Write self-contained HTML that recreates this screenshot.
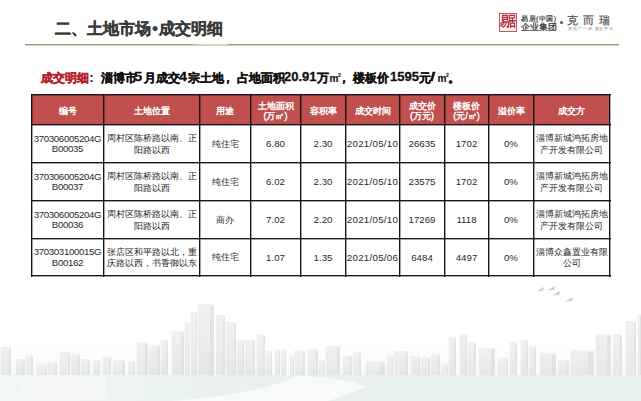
<!DOCTYPE html>
<html><head><meta charset="utf-8">
<style>
*{margin:0;padding:0;box-sizing:border-box}
html,body{width:641px;height:401px;overflow:hidden;background:#fff}
body{position:relative;font-family:"Liberation Sans",sans-serif;color:#222}
.abs{position:absolute;white-space:nowrap}
#title{left:55px;top:16px;font-size:16px;font-weight:bold;color:#3a3a3a;line-height:26px;-webkit-text-stroke:0.35px #3a3a3a}
#title .dot{display:inline-block;width:8px;text-align:center}
#rule{left:25px;top:44px;width:594px;height:1px;background:linear-gradient(90deg,#a09d90 0,#a09d90 165px,#d6d4cc 175px,#dcdad2 200px,#a09d90 205px,#a09d90 100%)}
#rule2{left:25px;top:45px;width:594px;height:1px;background:#d2d0c6}
#tint{left:25px;top:38px;width:594px;height:12px;background:linear-gradient(180deg,rgba(255,252,225,0) 0,rgba(255,252,228,.4) 45%,rgba(255,252,228,.4) 60%,rgba(255,252,225,0) 100%)}
.sub{top:68px;font-size:12px;font-weight:bold;color:#111;line-height:20px;-webkit-text-stroke:0.3px #111}
.sub.n{font-size:13px;top:67px}
.sq{font-size:10px;top:68.5px;-webkit-text-stroke:0.15px #111}
.sq sup{font-size:5px;vertical-align:0;position:relative;top:-5px;margin-left:-0.5px}
.sub.r{color:#b8202c;-webkit-text-stroke:0.4px #b8202c}
.cell{position:absolute;display:flex;align-items:center;justify-content:center;text-align:center;font-size:9px;line-height:11.5px;color:#2a2a2a;white-space:nowrap;padding-top:1px}
.idc{font-size:9.7px;letter-spacing:-0.35px;line-height:10.5px;padding-top:1px}
.cjk{padding-top:2px}
.num{font-size:9.7px;padding-top:1px}
.dt{letter-spacing:0.3px}
.hd{color:#fff;line-height:10.5px;padding-top:3px;-webkit-text-stroke:0.4px #fff}
.ln{position:absolute;background:#161616}
.ls{position:absolute;background:rgba(0,0,0,0.35)}
</style></head><body>
<svg class="abs" style="left:0;top:0" width="641" height="401" viewBox="0 0 641 401">
<defs><linearGradient id="bg" x1="0" y1="0" x2="0" y2="1"><stop offset="0" stop-color="#eeeff0"/><stop offset="1" stop-color="#e1e4e5"/></linearGradient>
<linearGradient id="haze" x1="0" y1="0" x2="0" y2="1"><stop offset="0" stop-color="#f4f7f7" stop-opacity="0"/><stop offset="1" stop-color="#eef3f3" stop-opacity="1"/></linearGradient></defs>
<filter id="bl"><feGaussianBlur stdDeviation="0.7"/></filter><g filter="url(#bl)" opacity="0.85">
<rect x="0" y="340" width="641" height="35" fill="url(#haze)" opacity="0.6"/>
<rect x="0" y="347" width="11" height="28" fill="url(#bg)"/>
<rect x="9" y="349" width="2" height="26" fill="#d8dbdc" opacity="0.7"/>
<rect x="0" y="347" width="1" height="28" fill="#fafafa" opacity="0.8"/>
<rect x="15" y="359" width="10" height="16" fill="url(#bg)"/>
<rect x="23" y="361" width="2" height="14" fill="#d8dbdc" opacity="0.7"/>
<rect x="15" y="359" width="1" height="16" fill="#fafafa" opacity="0.8"/>
<rect x="25" y="355" width="8" height="20" fill="url(#bg)"/>
<rect x="31" y="357" width="2" height="18" fill="#d8dbdc" opacity="0.7"/>
<rect x="25" y="355" width="1" height="20" fill="#fafafa" opacity="0.8"/>
<rect x="36" y="364" width="11" height="11" fill="url(#bg)"/>
<rect x="45" y="366" width="2" height="9" fill="#d8dbdc" opacity="0.7"/>
<rect x="36" y="364" width="1" height="11" fill="#fafafa" opacity="0.8"/>
<rect x="47" y="362" width="10" height="13" fill="url(#bg)"/>
<rect x="55" y="364" width="2" height="11" fill="#d8dbdc" opacity="0.7"/>
<rect x="47" y="362" width="1" height="13" fill="#fafafa" opacity="0.8"/>
<rect x="59" y="352" width="11" height="23" fill="url(#bg)"/>
<rect x="68" y="354" width="2" height="21" fill="#d8dbdc" opacity="0.7"/>
<rect x="59" y="352" width="1" height="23" fill="#fafafa" opacity="0.8"/>
<rect x="70" y="354" width="10" height="21" fill="url(#bg)"/>
<rect x="78" y="356" width="2" height="19" fill="#d8dbdc" opacity="0.7"/>
<rect x="70" y="354" width="1" height="21" fill="#fafafa" opacity="0.8"/>
<rect x="80" y="359" width="10" height="16" fill="url(#bg)"/>
<rect x="88" y="361" width="2" height="14" fill="#d8dbdc" opacity="0.7"/>
<rect x="80" y="359" width="1" height="16" fill="#fafafa" opacity="0.8"/>
<rect x="92" y="360" width="8" height="15" fill="url(#bg)"/>
<rect x="98" y="362" width="2" height="13" fill="#d8dbdc" opacity="0.7"/>
<rect x="92" y="360" width="1" height="15" fill="#fafafa" opacity="0.8"/>
<rect x="102" y="357" width="9" height="18" fill="url(#bg)"/>
<rect x="109" y="359" width="2" height="16" fill="#d8dbdc" opacity="0.7"/>
<rect x="102" y="357" width="1" height="18" fill="#fafafa" opacity="0.8"/>
<rect x="112" y="360" width="13" height="15" fill="url(#bg)"/>
<rect x="122" y="362" width="3" height="13" fill="#d8dbdc" opacity="0.7"/>
<rect x="112" y="360" width="1" height="15" fill="#fafafa" opacity="0.8"/>
<rect x="127" y="361" width="8" height="14" fill="url(#bg)"/>
<rect x="133" y="363" width="2" height="12" fill="#d8dbdc" opacity="0.7"/>
<rect x="127" y="361" width="1" height="14" fill="#fafafa" opacity="0.8"/>
<rect x="136" y="342" width="12" height="33" fill="url(#bg)"/>
<rect x="145" y="344" width="3" height="31" fill="#d8dbdc" opacity="0.7"/>
<rect x="136" y="342" width="1" height="33" fill="#fafafa" opacity="0.8"/>
<rect x="148" y="345" width="12" height="30" fill="url(#bg)"/>
<rect x="157" y="347" width="3" height="28" fill="#d8dbdc" opacity="0.7"/>
<rect x="148" y="345" width="1" height="30" fill="#fafafa" opacity="0.8"/>
<rect x="160" y="340" width="8" height="35" fill="url(#bg)"/>
<rect x="166" y="342" width="2" height="33" fill="#d8dbdc" opacity="0.7"/>
<rect x="160" y="340" width="1" height="35" fill="#fafafa" opacity="0.8"/>
<rect x="171" y="331" width="13" height="44" fill="url(#bg)"/>
<rect x="181" y="333" width="3" height="42" fill="#d8dbdc" opacity="0.7"/>
<rect x="171" y="331" width="1" height="44" fill="#fafafa" opacity="0.8"/>
<rect x="184" y="322" width="10" height="53" fill="url(#bg)"/>
<rect x="192" y="324" width="2" height="51" fill="#d8dbdc" opacity="0.7"/>
<rect x="184" y="322" width="1" height="53" fill="#fafafa" opacity="0.8"/>
<rect x="190" y="312" width="7" height="63" fill="url(#bg)"/>
<rect x="196" y="314" width="1" height="61" fill="#d8dbdc" opacity="0.7"/>
<rect x="190" y="312" width="1" height="63" fill="#fafafa" opacity="0.8"/>
<rect x="197" y="304" width="17" height="71" fill="url(#bg)"/>
<rect x="210" y="306" width="4" height="69" fill="#d8dbdc" opacity="0.7"/>
<rect x="197" y="304" width="1" height="71" fill="#fafafa" opacity="0.8"/>
<rect x="215" y="315" width="10" height="60" fill="url(#bg)"/>
<rect x="223" y="317" width="2" height="58" fill="#d8dbdc" opacity="0.7"/>
<rect x="215" y="315" width="1" height="60" fill="#fafafa" opacity="0.8"/>
<rect x="225" y="322" width="11" height="53" fill="url(#bg)"/>
<rect x="234" y="324" width="2" height="51" fill="#d8dbdc" opacity="0.7"/>
<rect x="225" y="322" width="1" height="53" fill="#fafafa" opacity="0.8"/>
<rect x="236" y="340" width="8" height="35" fill="url(#bg)"/>
<rect x="242" y="342" width="2" height="33" fill="#d8dbdc" opacity="0.7"/>
<rect x="236" y="340" width="1" height="35" fill="#fafafa" opacity="0.8"/>
<rect x="244" y="340" width="11" height="35" fill="url(#bg)"/>
<rect x="253" y="342" width="2" height="33" fill="#d8dbdc" opacity="0.7"/>
<rect x="244" y="340" width="1" height="35" fill="#fafafa" opacity="0.8"/>
<rect x="256" y="334" width="9" height="41" fill="url(#bg)"/>
<rect x="263" y="336" width="2" height="39" fill="#d8dbdc" opacity="0.7"/>
<rect x="256" y="334" width="1" height="41" fill="#fafafa" opacity="0.8"/>
<rect x="265" y="351" width="7" height="24" fill="url(#bg)"/>
<rect x="271" y="353" width="1" height="22" fill="#d8dbdc" opacity="0.7"/>
<rect x="265" y="351" width="1" height="24" fill="#fafafa" opacity="0.8"/>
<rect x="274" y="349" width="6" height="26" fill="url(#bg)"/>
<rect x="279" y="351" width="1" height="24" fill="#d8dbdc" opacity="0.7"/>
<rect x="274" y="349" width="1" height="26" fill="#fafafa" opacity="0.8"/>
<rect x="280" y="350" width="6" height="25" fill="url(#bg)"/>
<rect x="285" y="352" width="1" height="23" fill="#d8dbdc" opacity="0.7"/>
<rect x="280" y="350" width="1" height="25" fill="#fafafa" opacity="0.8"/>
<rect x="289" y="356" width="5" height="19" fill="url(#bg)"/>
<rect x="293" y="358" width="1" height="17" fill="#d8dbdc" opacity="0.7"/>
<rect x="289" y="356" width="1" height="19" fill="#fafafa" opacity="0.8"/>
<rect x="294" y="350" width="11" height="25" fill="url(#bg)"/>
<rect x="303" y="352" width="2" height="23" fill="#d8dbdc" opacity="0.7"/>
<rect x="294" y="350" width="1" height="25" fill="#fafafa" opacity="0.8"/>
<rect x="307" y="349" width="11" height="26" fill="url(#bg)"/>
<rect x="316" y="351" width="2" height="24" fill="#d8dbdc" opacity="0.7"/>
<rect x="307" y="349" width="1" height="26" fill="#fafafa" opacity="0.8"/>
<rect x="318" y="360" width="7" height="15" fill="url(#bg)"/>
<rect x="324" y="362" width="1" height="13" fill="#d8dbdc" opacity="0.7"/>
<rect x="318" y="360" width="1" height="15" fill="#fafafa" opacity="0.8"/>
<rect x="325" y="346" width="15" height="29" fill="url(#bg)"/>
<rect x="337" y="348" width="3" height="27" fill="#d8dbdc" opacity="0.7"/>
<rect x="325" y="346" width="1" height="29" fill="#fafafa" opacity="0.8"/>
<rect x="342" y="356" width="10" height="19" fill="url(#bg)"/>
<rect x="350" y="358" width="2" height="17" fill="#d8dbdc" opacity="0.7"/>
<rect x="342" y="356" width="1" height="19" fill="#fafafa" opacity="0.8"/>
<rect x="352" y="352" width="9" height="23" fill="url(#bg)"/>
<rect x="359" y="354" width="2" height="21" fill="#d8dbdc" opacity="0.7"/>
<rect x="352" y="352" width="1" height="23" fill="#fafafa" opacity="0.8"/>
<rect x="365" y="361" width="20" height="14" fill="url(#bg)"/>
<rect x="380" y="363" width="5" height="12" fill="#d8dbdc" opacity="0.7"/>
<rect x="365" y="361" width="1" height="14" fill="#fafafa" opacity="0.8"/>
<rect x="386" y="355" width="7" height="20" fill="url(#bg)"/>
<rect x="392" y="357" width="1" height="18" fill="#d8dbdc" opacity="0.7"/>
<rect x="386" y="355" width="1" height="20" fill="#fafafa" opacity="0.8"/>
<rect x="393" y="351" width="15" height="24" fill="url(#bg)"/>
<rect x="405" y="353" width="3" height="22" fill="#d8dbdc" opacity="0.7"/>
<rect x="393" y="351" width="1" height="24" fill="#fafafa" opacity="0.8"/>
<rect x="410" y="356" width="10" height="19" fill="url(#bg)"/>
<rect x="418" y="358" width="2" height="17" fill="#d8dbdc" opacity="0.7"/>
<rect x="410" y="356" width="1" height="19" fill="#fafafa" opacity="0.8"/>
<rect x="420" y="357" width="10" height="18" fill="url(#bg)"/>
<rect x="428" y="359" width="2" height="16" fill="#d8dbdc" opacity="0.7"/>
<rect x="420" y="357" width="1" height="18" fill="#fafafa" opacity="0.8"/>
<rect x="430" y="354" width="10" height="21" fill="url(#bg)"/>
<rect x="438" y="356" width="2" height="19" fill="#d8dbdc" opacity="0.7"/>
<rect x="430" y="354" width="1" height="21" fill="#fafafa" opacity="0.8"/>
<rect x="440" y="364" width="8" height="11" fill="url(#bg)"/>
<rect x="446" y="366" width="2" height="9" fill="#d8dbdc" opacity="0.7"/>
<rect x="440" y="364" width="1" height="11" fill="#fafafa" opacity="0.8"/>
<rect x="448" y="337" width="8" height="38" fill="url(#bg)"/>
<rect x="454" y="339" width="2" height="36" fill="#d8dbdc" opacity="0.7"/>
<rect x="448" y="337" width="1" height="38" fill="#fafafa" opacity="0.8"/>
<rect x="459" y="334" width="8" height="41" fill="url(#bg)"/>
<rect x="465" y="336" width="2" height="39" fill="#d8dbdc" opacity="0.7"/>
<rect x="459" y="334" width="1" height="41" fill="#fafafa" opacity="0.8"/>
<rect x="467" y="342" width="9" height="33" fill="url(#bg)"/>
<rect x="474" y="344" width="2" height="31" fill="#d8dbdc" opacity="0.7"/>
<rect x="467" y="342" width="1" height="33" fill="#fafafa" opacity="0.8"/>
<rect x="478" y="348" width="17" height="27" fill="url(#bg)"/>
<rect x="491" y="350" width="4" height="25" fill="#d8dbdc" opacity="0.7"/>
<rect x="478" y="348" width="1" height="27" fill="#fafafa" opacity="0.8"/>
<rect x="497" y="358" width="11" height="17" fill="url(#bg)"/>
<rect x="506" y="360" width="2" height="15" fill="#d8dbdc" opacity="0.7"/>
<rect x="497" y="358" width="1" height="17" fill="#fafafa" opacity="0.8"/>
<rect x="509" y="342" width="8" height="33" fill="url(#bg)"/>
<rect x="515" y="344" width="2" height="31" fill="#d8dbdc" opacity="0.7"/>
<rect x="509" y="342" width="1" height="33" fill="#fafafa" opacity="0.8"/>
<rect x="520" y="340" width="8" height="35" fill="url(#bg)"/>
<rect x="526" y="342" width="2" height="33" fill="#d8dbdc" opacity="0.7"/>
<rect x="520" y="340" width="1" height="35" fill="#fafafa" opacity="0.8"/>
<rect x="528" y="346" width="8" height="29" fill="url(#bg)"/>
<rect x="534" y="348" width="2" height="27" fill="#d8dbdc" opacity="0.7"/>
<rect x="528" y="346" width="1" height="29" fill="#fafafa" opacity="0.8"/>
<rect x="539" y="353" width="17" height="22" fill="url(#bg)"/>
<rect x="552" y="355" width="4" height="20" fill="#d8dbdc" opacity="0.7"/>
<rect x="539" y="353" width="1" height="22" fill="#fafafa" opacity="0.8"/>
<rect x="557" y="360" width="12" height="15" fill="url(#bg)"/>
<rect x="566" y="362" width="3" height="13" fill="#d8dbdc" opacity="0.7"/>
<rect x="557" y="360" width="1" height="15" fill="#fafafa" opacity="0.8"/>
<rect x="570" y="350" width="24" height="25" fill="url(#bg)"/>
<rect x="588" y="352" width="6" height="23" fill="#d8dbdc" opacity="0.7"/>
<rect x="570" y="350" width="1" height="25" fill="#fafafa" opacity="0.8"/>
<rect x="595" y="334" width="16" height="41" fill="url(#bg)"/>
<rect x="607" y="336" width="4" height="39" fill="#d8dbdc" opacity="0.7"/>
<rect x="595" y="334" width="1" height="41" fill="#fafafa" opacity="0.8"/>
<rect x="612" y="334" width="10" height="41" fill="url(#bg)"/>
<rect x="620" y="336" width="2" height="39" fill="#d8dbdc" opacity="0.7"/>
<rect x="612" y="334" width="1" height="41" fill="#fafafa" opacity="0.8"/>
<rect x="625" y="321" width="11" height="54" fill="url(#bg)"/>
<rect x="634" y="323" width="2" height="52" fill="#d8dbdc" opacity="0.7"/>
<rect x="625" y="321" width="1" height="54" fill="#fafafa" opacity="0.8"/>
<rect x="637" y="314" width="4" height="61" fill="url(#bg)"/>
<rect x="640" y="316" width="1" height="59" fill="#d8dbdc" opacity="0.7"/>
<rect x="637" y="314" width="1" height="61" fill="#fafafa" opacity="0.8"/>
</g><defs><linearGradient id="wt" x1="0" y1="0" x2="1" y2="0"><stop offset="0" stop-color="#f3f7f7"/><stop offset="0.17" stop-color="#eff5f5"/><stop offset="0.3" stop-color="#e9f2f1"/><stop offset="1" stop-color="#e6f0ef"/></linearGradient></defs><rect x="0" y="375" width="641" height="26" fill="url(#wt)"/>
<rect x="20" y="377" width="86" height="22" fill="#f8fafa" opacity="0.7"/>
<path d="M170 401 Q262 394 297 376 Q345 377 366 387 Q350 394 328 401 Z" fill="#f9fbfb"/>
<path d="M537.5 291 L543.5 287.5 L543 290.5 Z" fill="#c4c4c4" stroke="#d4d4d4" stroke-width="0.8"/>
<path d="M548.5 290 L554.5 286.5 L554 289.5 Z" fill="#c4c4c4" stroke="#d4d4d4" stroke-width="0.8"/>
<path d="M553.5 295 L559.5 291.5 L559 294.5 Z" fill="#c4c4c4" stroke="#d4d4d4" stroke-width="0.8"/>
<path d="M566.5 301 L572.5 297.5 L572 300.5 Z" fill="#c4c4c4" stroke="#d4d4d4" stroke-width="0.8"/>
</svg>
<div id="title" class="abs">二、土地市场<span class="dot">•</span>成交明细</div>
<div id="tint" class="abs"></div><div id="rule" class="abs"></div><div id="rule2" class="abs"></div>
<div class="abs sub r" style="left:41px">成交明细</div>
<div class="abs sub" style="left:89.5px;color:#222;-webkit-text-stroke:0.2px #222">:</div>
<div class="abs sub" style="left:101px">淄博市</div>
<div class="abs sub n" style="left:134px;transform:scaleX(1.15);transform-origin:0 50%">5</div>
<div class="abs sub" style="left:144px">月成交</div>
<div class="abs sub n" style="left:179px;transform:scaleX(1.12);transform-origin:0 50%">4</div>
<div class="abs sub" style="left:188px">宗土地</div>
<div class="abs sub" style="left:222px">，</div>
<div class="abs sub" style="left:237px">占地面积</div>
<div class="abs sub n" style="left:284px">20.91</div>
<div class="abs sub" style="left:317px">万</div>
<div class="abs sub sq" style="left:329.5px">m<sup>2</sup></div>
<div class="abs sub" style="left:338px">，</div>
<div class="abs sub" style="left:353px">楼板价</div>
<div class="abs sub n" style="left:390px">1595</div>
<div class="abs sub" style="left:418.5px">元</div>
<div class="abs sub" style="left:430px;font-size:13px;top:67px;transform:scaleX(1.5);transform-origin:0 50%">/</div>
<div class="abs sub sq" style="left:437.5px">m<sup>2</sup></div>
<div class="abs sub" style="left:448px">。</div>
<div class="abs" style="left:499px;top:13px;width:18px;height:19px;border:1px solid #c9555a;background:#fbf3f3"></div>
<div class="abs" style="left:500px;top:14px;width:17px;height:17px;font-size:9px;line-height:17px;color:#b02a35;letter-spacing:-1.8px;font-weight:bold;transform:scaleY(1.5);transform-origin:50% 50%">易居</div>
<div class="abs" style="left:521px;top:14px;font-size:7px;line-height:9px;color:#3a3a3a;letter-spacing:0.5px;-webkit-text-stroke:0.2px #3a3a3a">易居(中国)</div>
<div class="abs" style="left:521px;top:22px;font-size:8.7px;line-height:10px;color:#333;-webkit-text-stroke:0.25px #333">企业集团</div>
<div class="abs" style="left:560px;top:21px;width:3px;height:3px;border-radius:50%;background:#555"></div>
<div class="abs" style="left:567px;top:14px;font-size:11px;line-height:13px;color:#505050;letter-spacing:5px;-webkit-text-stroke:0.2px #505050">克而瑞</div>
<div class="abs" style="left:568px;top:26px;font-size:4px;line-height:5px;color:#888;letter-spacing:0.9px">房地产一体 服务平台</div>
<div class="abs" style="left:31px;top:94px;width:578px;height:30px;background:#c0504d"></div>
<div class="cell hd" style="left:32px;top:95px;width:71px;height:29px">编号</div>
<div class="cell hd" style="left:104px;top:95px;width:95px;height:29px">土地位置</div>
<div class="cell hd" style="left:200px;top:95px;width:50px;height:29px">用途</div>
<div class="cell hd" style="left:251px;top:95px;width:49px;height:29px">土地面积<br>(万㎡)</div>
<div class="cell hd" style="left:301px;top:95px;width:44px;height:29px">容积率</div>
<div class="cell hd" style="left:346px;top:95px;width:53px;height:29px">成交时间</div>
<div class="cell hd" style="left:400px;top:95px;width:44px;height:29px">成交价<br>(万元)</div>
<div class="cell hd" style="left:445px;top:95px;width:43px;height:29px">楼板价<br>(元/㎡)</div>
<div class="cell hd" style="left:489px;top:95px;width:44px;height:29px">溢价率</div>
<div class="cell hd" style="left:534px;top:95px;width:75px;height:29px">成交方</div>
<div class="cell idc" style="left:32px;top:125px;width:71px;height:37px">370306005204G<br>B00035</div>
<div class="cell cjk" style="left:104px;top:125px;width:95px;height:37px">周村区陈桥路以南、正<br>阳路以西</div>
<div class="cell cjk" style="left:200px;top:125px;width:50px;height:37px">纯住宅</div>
<div class="cell num" style="left:251px;top:125px;width:49px;height:37px">6.80</div>
<div class="cell num" style="left:301px;top:125px;width:44px;height:37px">2.30</div>
<div class="cell num dt" style="left:346px;top:125px;width:53px;height:37px">2021/05/10</div>
<div class="cell num" style="left:400px;top:125px;width:44px;height:37px">26635</div>
<div class="cell num" style="left:445px;top:125px;width:43px;height:37px">1702</div>
<div class="cell num" style="left:489px;top:125px;width:44px;height:37px">0%</div>
<div class="cell cjk" style="left:534px;top:125px;width:75px;height:37px">淄博新城鸿拓房地<br>产开发有限公司</div>
<div class="cell idc" style="left:32px;top:163px;width:71px;height:37px">370306005204G<br>B00037</div>
<div class="cell cjk" style="left:104px;top:163px;width:95px;height:37px">周村区陈桥路以南、正<br>阳路以西</div>
<div class="cell cjk" style="left:200px;top:163px;width:50px;height:37px">纯住宅</div>
<div class="cell num" style="left:251px;top:163px;width:49px;height:37px">6.02</div>
<div class="cell num" style="left:301px;top:163px;width:44px;height:37px">2.30</div>
<div class="cell num dt" style="left:346px;top:163px;width:53px;height:37px">2021/05/10</div>
<div class="cell num" style="left:400px;top:163px;width:44px;height:37px">23575</div>
<div class="cell num" style="left:445px;top:163px;width:43px;height:37px">1702</div>
<div class="cell num" style="left:489px;top:163px;width:44px;height:37px">0%</div>
<div class="cell cjk" style="left:534px;top:163px;width:75px;height:37px">淄博新城鸿拓房地<br>产开发有限公司</div>
<div class="cell idc" style="left:32px;top:201px;width:71px;height:37px">370306005204G<br>B00036</div>
<div class="cell cjk" style="left:104px;top:201px;width:95px;height:37px">周村区陈桥路以南、正<br>阳路以西</div>
<div class="cell cjk" style="left:200px;top:201px;width:50px;height:37px">商办</div>
<div class="cell num" style="left:251px;top:201px;width:49px;height:37px">7.02</div>
<div class="cell num" style="left:301px;top:201px;width:44px;height:37px">2.20</div>
<div class="cell num dt" style="left:346px;top:201px;width:53px;height:37px">2021/05/10</div>
<div class="cell num" style="left:400px;top:201px;width:44px;height:37px">17269</div>
<div class="cell num" style="left:445px;top:201px;width:43px;height:37px">1118</div>
<div class="cell num" style="left:489px;top:201px;width:44px;height:37px">0%</div>
<div class="cell cjk" style="left:534px;top:201px;width:75px;height:37px">淄博新城鸿拓房地<br>产开发有限公司</div>
<div class="cell idc" style="left:32px;top:239px;width:71px;height:36px">370303100015G<br>B00162</div>
<div class="cell cjk" style="left:104px;top:239px;width:95px;height:36px">张店区和平路以北，重<br>庆路以西，书香御以东</div>
<div class="cell cjk" style="left:200px;top:239px;width:50px;height:36px">纯住宅</div>
<div class="cell num" style="left:251px;top:239px;width:49px;height:36px">1.07</div>
<div class="cell num" style="left:301px;top:239px;width:44px;height:36px">1.35</div>
<div class="cell num dt" style="left:346px;top:239px;width:53px;height:36px">2021/05/06</div>
<div class="cell num" style="left:400px;top:239px;width:44px;height:36px">6484</div>
<div class="cell num" style="left:445px;top:239px;width:43px;height:36px">4497</div>
<div class="cell num" style="left:489px;top:239px;width:44px;height:36px">0%</div>
<div class="cell cjk" style="left:534px;top:239px;width:75px;height:36px">淄博众鑫置业有限<br>公司</div>
<div class="ln" style="left:31px;top:94px;width:1px;height:183px"></div>
<div class="ls" style="left:32px;top:94px;width:1px;height:183px"></div>
<div class="ln" style="left:103px;top:94px;width:1px;height:183px"></div>
<div class="ls" style="left:104px;top:94px;width:1px;height:183px"></div>
<div class="ln" style="left:199px;top:94px;width:1px;height:183px"></div>
<div class="ls" style="left:200px;top:94px;width:1px;height:183px"></div>
<div class="ln" style="left:250px;top:94px;width:1px;height:183px"></div>
<div class="ls" style="left:251px;top:94px;width:1px;height:183px"></div>
<div class="ln" style="left:300px;top:94px;width:1px;height:183px"></div>
<div class="ls" style="left:301px;top:94px;width:1px;height:183px"></div>
<div class="ln" style="left:345px;top:94px;width:1px;height:183px"></div>
<div class="ls" style="left:346px;top:94px;width:1px;height:183px"></div>
<div class="ln" style="left:399px;top:94px;width:1px;height:183px"></div>
<div class="ls" style="left:400px;top:94px;width:1px;height:183px"></div>
<div class="ln" style="left:444px;top:94px;width:1px;height:183px"></div>
<div class="ls" style="left:445px;top:94px;width:1px;height:183px"></div>
<div class="ln" style="left:488px;top:94px;width:1px;height:183px"></div>
<div class="ls" style="left:489px;top:94px;width:1px;height:183px"></div>
<div class="ln" style="left:533px;top:94px;width:1px;height:183px"></div>
<div class="ls" style="left:534px;top:94px;width:1px;height:183px"></div>
<div class="ln" style="left:609px;top:94px;width:1px;height:183px"></div>
<div class="ls" style="left:610px;top:94px;width:1px;height:183px"></div>
<div class="ln" style="left:31px;top:94px;width:580px;height:1px"></div>
<div class="ls" style="left:31px;top:95px;width:580px;height:1px"></div>
<div class="ln" style="left:31px;top:124px;width:580px;height:1px"></div>
<div class="ls" style="left:31px;top:125px;width:580px;height:1px"></div>
<div class="ln" style="left:31px;top:162px;width:580px;height:1px"></div>
<div class="ls" style="left:31px;top:163px;width:580px;height:1px"></div>
<div class="ln" style="left:31px;top:200px;width:580px;height:1px"></div>
<div class="ls" style="left:31px;top:201px;width:580px;height:1px"></div>
<div class="ln" style="left:31px;top:238px;width:580px;height:1px"></div>
<div class="ls" style="left:31px;top:239px;width:580px;height:1px"></div>
<div class="ln" style="left:31px;top:275px;width:580px;height:1px"></div>
<div class="ls" style="left:31px;top:276px;width:580px;height:1px"></div>
</body></html>
